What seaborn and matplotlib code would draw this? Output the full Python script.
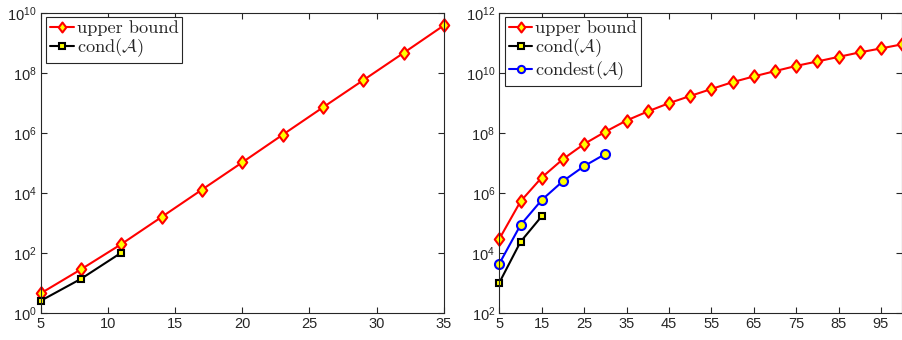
import numpy as np
import pandas as pd
import matplotlib
matplotlib.use('Agg')
import matplotlib.pyplot as plt
import seaborn as sns
from matplotlib.path import Path
from matplotlib.ticker import NullLocator, FixedLocator

# left panel data
n_left = [5, 8, 11, 14, 17, 20, 23, 26, 29, 32, 35]
upper_left = [4.6, 29, 200, 1.6e3, 1.3e4, 1.05e5, 8.7e5, 7.1e6, 5.7e7, 4.6e8, 3.8e9]
n_cond_left = [5, 8, 11]
cond_left = [2.6, 14, 104]

# right panel data
n_right = [5, 10, 15, 20, 25, 30, 35, 40, 45, 50, 55, 60, 65, 70, 75, 80, 85, 90, 95, 100]
upper_right = [3.0e4, 5.3e5, 3.3e6, 1.35e7, 4.3e7, 1.1e8, 2.6e8, 5.2e8, 9.8e8, 1.7e9,
               2.9e9, 4.9e9, 7.6e9, 1.14e10, 1.7e10, 2.4e10, 3.4e10, 4.8e10, 6.5e10, 8.9e10]
n_cond_right = [5, 10, 15]
cond_right = [1.05e3, 2.4e4, 1.7e5]
n_condest = [5, 10, 15, 20, 25, 30]
condest_right = [4.5e3, 8.7e4, 5.9e5, 2.5e6, 7.9e6, 2.0e7]

sns.set_theme(style='ticks')
plt.rcParams['font.family'] = ['Liberation Sans', 'DejaVu Sans']
axcol = '#262626'

# matlab-like diamond, a bit wider than matplotlib's 'd'
diamond = Path([(0, 1), (0.76, 0), (0, -1), (-0.76, 0), (0, 1)],
               [Path.MOVETO, Path.LINETO, Path.LINETO, Path.LINETO, Path.CLOSEPOLY])

fig = plt.figure(figsize=(9.03, 3.4), dpi=100)
ax1 = fig.add_axes([0.045, 0.0785, 0.4466, 0.884])
ax2 = fig.add_axes([0.553, 0.0785, 0.446, 0.884])

ub_style = dict(color='red', marker=diamond, markersize=9, markerfacecolor='yellow',
                markeredgecolor='red', markeredgewidth=1.5, linewidth=1.5)
cond_style = dict(color='black', marker='s', markersize=5, markerfacecolor='yellow',
                  markeredgecolor='black', markeredgewidth=1.5, linewidth=1.5)
est_style = dict(color='blue', marker='o', markersize=6.5, markerfacecolor='yellow',
                 markeredgecolor='blue', markeredgewidth=1.5, linewidth=1.5)

sns.lineplot(x=n_left, y=upper_left, ax=ax1, label='upper bound', **ub_style)
sns.lineplot(x=n_cond_left, y=cond_left, ax=ax1, label=r'cond($\mathcal{A}$)', **cond_style)

sns.lineplot(x=n_right, y=upper_right, ax=ax2, label='upper bound', **ub_style)
sns.lineplot(x=n_cond_right, y=cond_right, ax=ax2, label=r'cond($\mathcal{A}$)', **cond_style)
sns.lineplot(x=n_condest, y=condest_right, ax=ax2, label=r'condest($\mathcal{A}$)', **est_style)

setups = [
    (ax1, (5, 35), list(range(5, 36, 5)), (1e0, 1e10), [10.0 ** k for k in range(0, 11, 2)]),
    (ax2, (5, 100), list(range(5, 100, 10)), (1e2, 1e12), [10.0 ** k for k in range(2, 13, 2)]),
]
for ax, xlim, xt, ylim, yt in setups:
    ax.set_yscale('log')
    ax.set_xlim(*xlim)
    ax.set_ylim(*ylim)
    ax.set_xticks(xt)
    ax.yaxis.set_major_locator(FixedLocator(yt))
    ax.yaxis.set_minor_locator(NullLocator())
    ax.tick_params(direction='in', top=True, right=True, length=4, width=0.8,
                   colors=axcol, labelsize=10.5, pad=3)
    for s in ax.spines.values():
        s.set_color(axcol)
        s.set_linewidth(0.8)
    for ln in ax.get_lines():
        ln.set_clip_on(False)
    leg = ax.legend(loc='upper left', bbox_to_anchor=(0.014, 0.986), fancybox=False,
                    framealpha=1, edgecolor=axcol, borderaxespad=0, borderpad=0.2,
                    handlelength=1.3, handletextpad=0.15, labelspacing=0.0,
                    markerscale=0.8, prop={'family': 'DejaVu Serif', 'size': 13.2})
    leg.get_frame().set_linewidth(0.8)
    for t in leg.get_texts():
        t.set_math_fontfamily('cm')
        t.set_fontfamily(['cmr10', 'DejaVu Serif'])

fig.savefig('out.png', dpi=100)
